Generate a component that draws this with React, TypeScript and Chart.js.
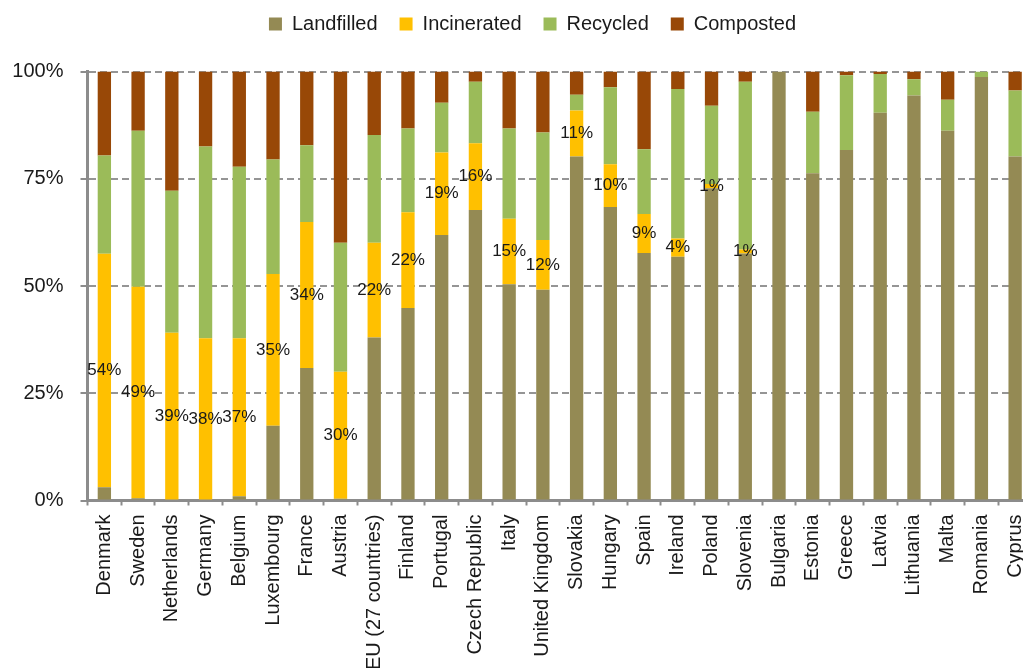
import React, { useEffect, useRef } from "react";
import { Chart, registerables } from "chart.js";

Chart.register(...registerables);

const countries = [
  "Denmark", "Sweden", "Netherlands", "Germany", "Belgium", "Luxembourg", "France", "Austria",
  "EU (27 countries)", "Finland", "Portugal", "Czech Republic", "Italy", "United Kingdom",
  "Slovakia", "Hungary", "Spain", "Ireland", "Poland", "Slovenia", "Bulgaria", "Estonia",
  "Greece", "Latvia", "Lithuania", "Malta", "Romania", "Cyprus",
];

const landfilled = [3.1, 0.5, 0, 0, 1.0, 17.4, 30.9, 0.4, 38.0, 44.9, 61.9, 67.7, 50.4, 49.1, 80.2, 68.4, 57.7, 56.8, 72.8, 57.6, 100, 76.3, 81.7, 90.4, 94.4, 86.2, 98.7, 80.2];
const incinerated = [54.4, 49.3, 39.1, 37.8, 36.8, 35.4, 34.0, 29.6, 22.1, 22.3, 19.2, 15.6, 15.3, 11.6, 10.7, 10.0, 9.1, 4.3, 1.0, 0.9, 0, 0, 0, 0, 0, 0, 0, 0];
const recycled = [22.9, 36.4, 33.1, 44.7, 40.0, 26.7, 17.9, 30.1, 25.1, 19.5, 11.6, 14.3, 21.0, 25.1, 3.7, 17.9, 15.1, 34.8, 18.2, 39.1, 0, 14.3, 17.4, 9.0, 3.8, 7.2, 1.3, 15.4];
const composted = [19.6, 13.8, 27.8, 17.5, 22.2, 20.5, 17.2, 39.9, 14.8, 13.3, 7.3, 2.4, 13.3, 14.2, 5.4, 3.7, 18.1, 4.1, 8.0, 2.4, 0, 9.4, 0.9, 0.6, 1.8, 6.6, 0, 4.4];

const yTicks = [0, 25, 50, 75, 100];

const FONT = "'Liberation Sans', Arial, sans-serif";

const legendPatch = {
  id: "legendPatch",
  beforeLayout(chart: any) {
    const lg = chart.legend;
    if (lg && !lg.__patched) {
      const orig = lg.fit.bind(lg);
      lg.fit = function () {
        orig();
        this.height = 79.5;
      };
      lg.__patched = true;
    }
  },
};

const incLabels = {
  id: "incLabels",
  afterDatasetsDraw(chart: any) {
    const ctx = chart.ctx;
    const meta = chart.getDatasetMeta(1);
    ctx.save();
    ctx.font = `17px ${FONT}`;
    ctx.fillStyle = "#1a1a1a";
    ctx.textAlign = "center";
    ctx.textBaseline = "middle";
    meta.data.forEach((el: any, i: number) => {
      const v = incinerated[i];
      if (v < 0.5) return;
      const p = el.getProps(["x", "y", "base"], true);
      ctx.fillText(Math.round(v) + "%", p.x, (p.y + p.base) / 2);
    });
    ctx.restore();
  },
};

export default function App() {
  const ref = useRef<HTMLCanvasElement>(null);
  useEffect(() => {
    if (!ref.current) return;
    const mk = (label: string, data: number[], color: string) => ({
      label,
      data,
      backgroundColor: color,
      borderWidth: 0,
      categoryPercentage: 1,
      barPercentage: 0.395,
    });
    const chart = new Chart(ref.current, {
      type: "bar",
      data: {
        labels: countries,
        datasets: [
          mk("Landfilled", landfilled, "#948A54"),
          mk("Incinerated", incinerated, "#FFC000"),
          mk("Recycled", recycled, "#9BBB59"),
          mk("Composted", composted, "#984807"),
        ],
      },
      options: {
        responsive: false,
        animation: false,
        devicePixelRatio: 1,
        layout: { padding: { top: 2, left: 0, right: 0, bottom: 0 } },
        plugins: {
          tooltip: { enabled: false },
          legend: {
            position: "top",
            labels: {
              boxWidth: 13,
              boxHeight: 13,
              padding: 22,
              color: "#1a1a1a",
              font: { family: FONT, size: 20 },
            },
          },
        },
        scales: {
          x: {
            stacked: true,
            offset: true,
            grid: {
              display: true,
              offset: true,
              drawOnChartArea: false,
              drawTicks: true,
              tickLength: 5,
              tickColor: "#8c8c8c",
              tickWidth: 2,
              color: "#8c8c8c",
            },
            border: { display: true, color: "#8c8c8c", width: 3 },
            ticks: {
              autoSkip: false,
              minRotation: 90,
              maxRotation: 90,
              padding: 9,
              color: "#1a1a1a",
              font: { family: FONT, size: 20 },
            },
            afterFit: (s: any) => {
              s.height = 209.5;
            },
          },
          y: {
            stacked: true,
            min: 0,
            max: 100,
            afterBuildTicks: (s: any) => {
              s.ticks = yTicks.map((v) => ({ value: v }));
            },
            ticks: {
              callback: (v: any) => v + "%",
              padding: 17,
              color: "#1a1a1a",
              font: { family: FONT, size: 20 },
            },
            grid: {
              color: (c: any) => (c.tick && c.tick.value === 0 ? "rgba(0,0,0,0)" : "#959595"),
              lineWidth: 2,
              drawTicks: true,
              tickLength: 7,
              tickColor: "#8c8c8c",
              tickWidth: 2,
            },
            border: { display: true, color: "#8c8c8c", width: 3, dash: [7, 4] },
            afterFit: (s: any) => {
              s.width = 87.5;
            },
          },
          yRight: {
            position: "right",
            display: true,
            grid: { display: false },
            border: { display: false },
            ticks: { display: false },
            afterFit: (s: any) => {
              s.width = 33;
            },
          },
        },
      } as any,
      plugins: [legendPatch, incLabels],
    });
    return () => chart.destroy();
  }, []);

  return (
    <div style={{ position: "fixed", left: 0, top: 0, width: 1023, height: 668, overflow: "hidden", background: "#fff" }}>
      <canvas
        ref={ref}
        width={1065}
        height={720}
        style={{ position: "absolute", left: 0, top: -10, display: "block" }}
      />
    </div>
  );
}
